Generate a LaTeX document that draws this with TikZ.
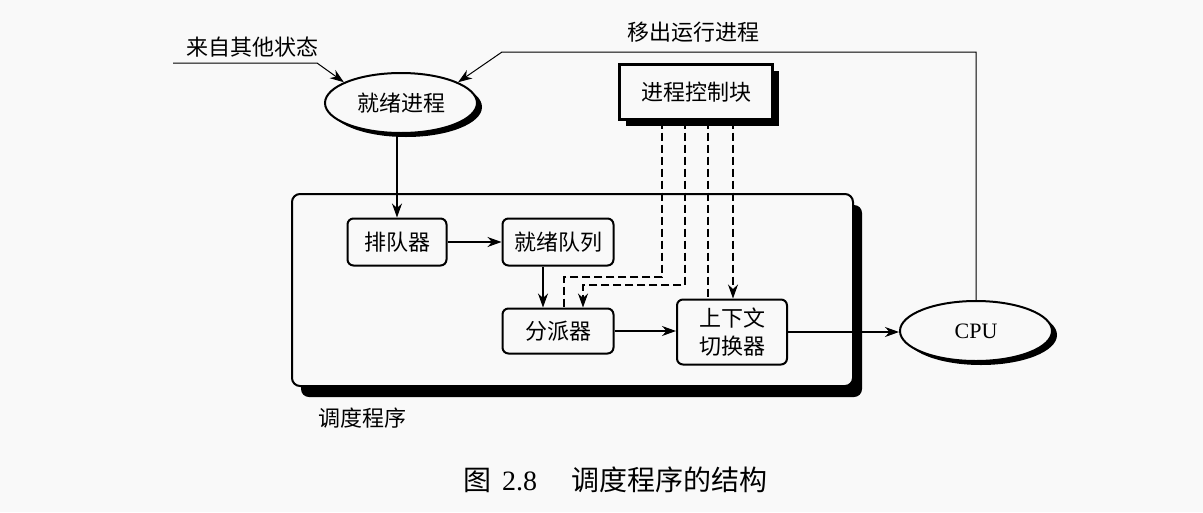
\documentclass[tikz,border=0pt]{standalone}
\usepackage{fontspec}
\setmainfont{Liberation Serif}
\newfontfamily\cjk{Noto Sans CJK SC}
\usetikzlibrary{shapes.geometric}
\usetikzlibrary{shadows}
\usetikzlibrary{arrows.meta}
\definecolor{paper}{RGB}{249,249,249}

\begin{document}
\begin{tikzpicture}[x=1pt,y=-1pt]

\tikzset{state/.style = {shape=ellipse,draw,line width=2pt,fill=paper,minimum width=152pt,minimum height=60pt,inner sep=0pt,drop shadow={shadow xshift=5pt,shadow yshift=-4pt,fill=black,opacity=1}}}
\tikzset{unit/.style = {shape=rectangle,rounded corners=6pt,draw,line width=2pt,fill=paper,inner sep=0pt,minimum height=47pt,font=\cjk\fontsize{22}{28}\selectfont}}
\tikzset{edge/.style = {->,> = {Stealth[length=14pt,width=10pt,inset=4.5pt]},line width=1.2pt}}
\tikzset{ctrl/.style = {dash pattern=on 8pt off 4pt,line width=1.2pt}}
\tikzset{plain/.style = {font=\cjk\fontsize{22}{26}\selectfont}}

%background
\fill[paper] (0,0) rectangle (1203,512);
\useasboundingbox (0,0) rectangle (1203,512);

%scheduler frame
\node[draw,line width=2pt,rounded corners=8pt,fill=paper,minimum width=561pt,minimum height=192pt,drop shadow={shadow xshift=9pt,shadow yshift=-11pt,fill=black,opacity=1}] (sched) at (572.5,290) {};
\node[plain] (schedname) at (362,418) {调度程序};

%vertex
\node[state,font=\cjk\fontsize{22}{26}\selectfont] (ready) at (401,103) {就绪进程};
\node[state,font=\fontsize{22}{26}\selectfont] (cpu) at (976,331) {CPU};
\node[unit,sharp corners,line width=2.4pt,minimum width=153pt,minimum height=55pt,drop shadow={shadow xshift=6pt,shadow yshift=-6pt,fill=black,opacity=1}] (pcb) at (696,92) {进程控制块};
\node[unit,minimum width=99pt] (sorter) at (397,242) {排队器};
\node[unit,minimum width=111pt] (readyq) at (558,242) {就绪队列};
\node[unit,minimum width=111pt,minimum height=45pt] (dispatch) at (558,331) {分派器};
\node[unit,minimum width=110pt,minimum height=65pt,align=center] (switch) at (732,332) {上下文\\切换器};

%labels
\node[plain] (fromother) at (252,47) {来自其他状态};
\node[plain] (moveout) at (693,32) {移出运行进程};
\node[font=\fontsize{28}{32}\selectfont] (caption) at (615,480) {{\cjk 图}\hspace{11pt}2.8\hspace{34pt}{\cjk 调度程序的结构}};

\coordinate (inL) at (173,63);
\coordinate (inbend) at (317,63);
\coordinate (outbend) at (502,52);

%outer edges
\draw[edge,line width=1pt] (inL) -- (inbend) -- (ready.160);
\draw[edge,line width=1pt] (cpu.north) -- (cpu.north |- outbend) -- (outbend) -- (ready.20);

%inner edges
\draw[edge] (ready.south -| sorter.north) -- (sorter.north);
\draw[edge] (sorter) -- (readyq);
\draw[edge] ([xshift=-15pt]readyq.south) -- ([xshift=-15pt]dispatch.north);
\draw[edge] (dispatch) -- (dispatch -| switch.west);
\draw[edge] (switch) -- (switch -| cpu.west);

%dashed control lines
\coordinate (d1) at (564,277);
\coordinate (d2) at (583,285);
\coordinate (c3) at ([xshift=12pt]pcb.south);
\coordinate (c4) at ([xshift=37pt]pcb.south);
\draw[ctrl] ([xshift=-34pt]pcb.south) |- (d1) -- (d1 |- dispatch.north);
\draw[edge,ctrl] ([xshift=-11pt]pcb.south) |- (d2) -- (d2 |- dispatch.north);
\draw[ctrl] (c3) -- (c3 |- switch.north);
\draw[edge,ctrl] (c4) -- (c4 |- switch.north);

\end{tikzpicture}
\end{document}
